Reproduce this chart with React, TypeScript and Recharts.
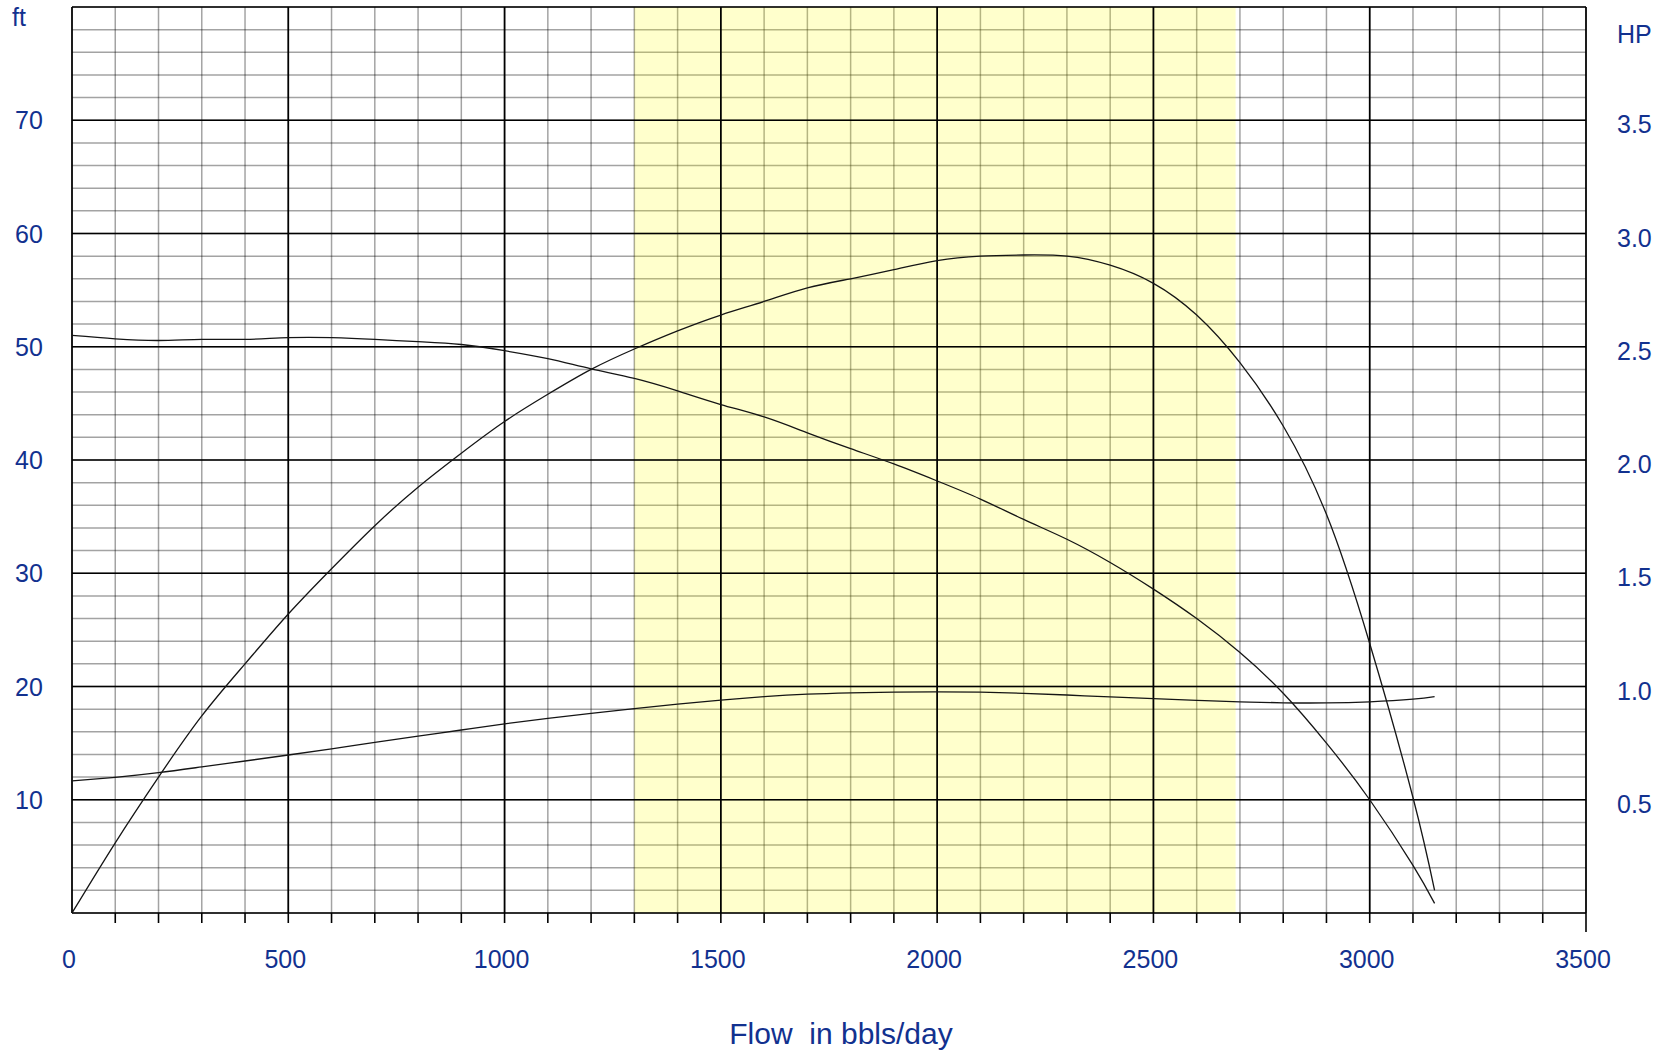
import {
  CartesianGrid,
  ComposedChart,
  Line,
  ReferenceArea,
  ReferenceLine,
  XAxis,
  YAxis,
} from "recharts";

// flow in bbls/day
const flow = [
  0, 100, 200, 300, 400, 500, 600, 700, 800, 900, 1000, 1100, 1200, 1300, 1400,
  1500, 1600, 1700, 1800, 1900, 2000, 2100, 2200, 2300, 2400, 2500, 2600, 2700,
  2800, 2900, 3000, 3100, 3150,
];

// head, ft (left axis)
const headFt = [
  51.0, 50.7, 50.55, 50.65, 50.65, 50.8, 50.8, 50.65, 50.45, 50.2, 49.65, 48.95,
  48.05, 47.2, 46.1, 44.9, 43.8, 42.4, 41.0, 39.65, 38.15, 36.55, 34.75, 33.0,
  30.95, 28.6, 26.0, 23.0, 19.4, 15.0, 10.0, 4.2, 0.85,
];

// brake horsepower (right axis)
const powerHp = [
  0, 0.31, 0.6, 0.87, 1.1, 1.32, 1.52, 1.71, 1.88, 2.03, 2.17, 2.29, 2.4, 2.49,
  2.57, 2.64, 2.7, 2.76, 2.8, 2.84, 2.88, 2.9, 2.905, 2.9, 2.86, 2.78, 2.64,
  2.43, 2.15, 1.76, 1.19, 0.51, 0.1,
];

// third curve, plotted on the ft scale
const effCurve = [
  11.66, 11.98, 12.39, 12.9, 13.42, 13.95, 14.5, 15.07, 15.62, 16.16, 16.7,
  17.19, 17.63, 18.05, 18.45, 18.8, 19.1, 19.32, 19.44, 19.51, 19.53, 19.5,
  19.4, 19.25, 19.08, 18.93, 18.78, 18.65, 18.56, 18.55, 18.65, 18.88, 19.1,
];

// recommended operating range
const bandFrom = 1300;
const bandTo = 2690;

const flowLabels = [0, 500, 1000, 1500, 2000, 2500, 3000, 3500];
const ftLabels = [10, 20, 30, 40, 50, 60, 70];
const hpLabels = [0.5, 1.0, 1.5, 2.0, 2.5, 3.0, 3.5];
const ftMajors = [0, 10, 20, 30, 40, 50, 60, 70, 80];

const flowTicks = Array.from({ length: 36 }, (_, i) => i * 100);
const ftTicks = Array.from({ length: 41 }, (_, i) => i * 2);

const BLUE = "#12318f";
const FONT = "'Liberation Sans', Arial, Helvetica, sans-serif";
const CURVE = "#151515";

function FlowTick(props: any) {
  const { x, y, payload } = props;
  const v = payload.value;
  const axisY = y - 10;
  const len = v === 0 ? 0 : v === 3500 ? 19 : 10;
  return (
    <g>
      {len > 0 && (
        <line x1={x} x2={x} y1={axisY} y2={axisY + len} stroke="#000" strokeWidth={1.6} />
      )}
      {flowLabels.includes(v) && (
        <text x={x - 3} y={y + 45} textAnchor="middle" fill={BLUE} fontSize={25} fontFamily={FONT}>
          {v}
        </text>
      )}
    </g>
  );
}

function FtTick(props: any) {
  const { x, y, payload } = props;
  if (!ftLabels.includes(payload.value)) return <g />;
  return (
    <text x={x - 43} y={y + 9} textAnchor="middle" fill={BLUE} fontSize={25} fontFamily={FONT}>
      {payload.value}
    </text>
  );
}

function HpTick(props: any) {
  const { x, y, payload } = props;
  if (!hpLabels.includes(payload.value)) return <g />;
  return (
    <text x={x + 31} y={y + 13} textAnchor="start" fill={BLUE} fontSize={25} fontFamily={FONT}>
      {payload.value.toFixed(1)}
    </text>
  );
}

export default function App() {
  const rows = flow.map((f, i) => ({
    flow: f,
    head: headFt[i],
    hp: powerHp[i],
    eff: effCurve[i],
  }));

  return (
    <div style={{ position: "absolute", left: 0, top: 0, width: 1667, height: 1053, background: "#fff" }}>
      <ComposedChart
        width={1667}
        height={1053}
        data={rows}
        margin={{ top: 7, right: 11, bottom: 80, left: 12 }}
      >
        <XAxis
          dataKey="flow"
          type="number"
          domain={[0, 3500]}
          ticks={flowTicks}
          interval={0}
          height={60}
          tickSize={10}
          tickMargin={0}
          tickLine={false}
          axisLine={false}
          tick={<FlowTick />}
          label={{
            content: (p: any) => (
              <text
                x={p.viewBox.x + p.viewBox.width / 2 + 12}
                y={p.viewBox.y + 131}
                textAnchor="middle"
                fill={BLUE}
                fontSize={30}
                fontFamily={FONT}
                style={{ whiteSpace: "pre" }}
              >
                {"Flow  in bbls/day"}
              </text>
            ),
          }}
        />
        <YAxis
          yAxisId="ft"
          type="number"
          domain={[0, 80]}
          ticks={ftTicks}
          interval={0}
          width={60}
          tickSize={0}
          tickMargin={0}
          tickLine={false}
          axisLine={false}
          tick={<FtTick />}
          label={{
            content: (p: any) => (
              <text x={p.viewBox.x} y={26} fill={BLUE} fontSize={25} fontFamily={FONT}>
                ft
              </text>
            ),
          }}
        />
        <YAxis
          yAxisId="hp"
          orientation="right"
          type="number"
          domain={[0, 4]}
          ticks={hpLabels}
          interval={0}
          width={70}
          tickSize={0}
          tickMargin={0}
          tickLine={false}
          axisLine={false}
          tick={<HpTick />}
          label={{
            content: (p: any) => (
              <text x={p.viewBox.x + 31} y={43} fill={BLUE} fontSize={25} fontFamily={FONT}>
                HP
              </text>
            ),
          }}
        />
        <CartesianGrid
          yAxisId="ft"
          stroke="#000"
          strokeOpacity={0.36}
          strokeWidth={1.5}
        />
        {flowLabels.map((v) => (
          <ReferenceLine key={"vx" + v} x={v} yAxisId="ft" stroke="#000" strokeWidth={1.7} />
        ))}
        {ftMajors.map((v) => (
          <ReferenceLine key={"hy" + v} y={v} yAxisId="ft" stroke="#000" strokeWidth={1.7} />
        ))}
        <ReferenceArea
          x1={bandFrom}
          x2={bandTo}
          yAxisId="ft"
          fill="#ffff00"
          fillOpacity={0.2}
          stroke="none"
        />
        <Line
          yAxisId="ft"
          dataKey="head"
          type="natural"
          stroke={CURVE}
          strokeWidth={1.3}
          dot={false}
          isAnimationActive={false}
        />
        <Line
          yAxisId="ft"
          dataKey="eff"
          type="natural"
          stroke={CURVE}
          strokeWidth={1.3}
          dot={false}
          isAnimationActive={false}
        />
        <Line
          yAxisId="hp"
          dataKey="hp"
          type="natural"
          stroke={CURVE}
          strokeWidth={1.3}
          dot={false}
          isAnimationActive={false}
        />
      </ComposedChart>
    </div>
  );
}
